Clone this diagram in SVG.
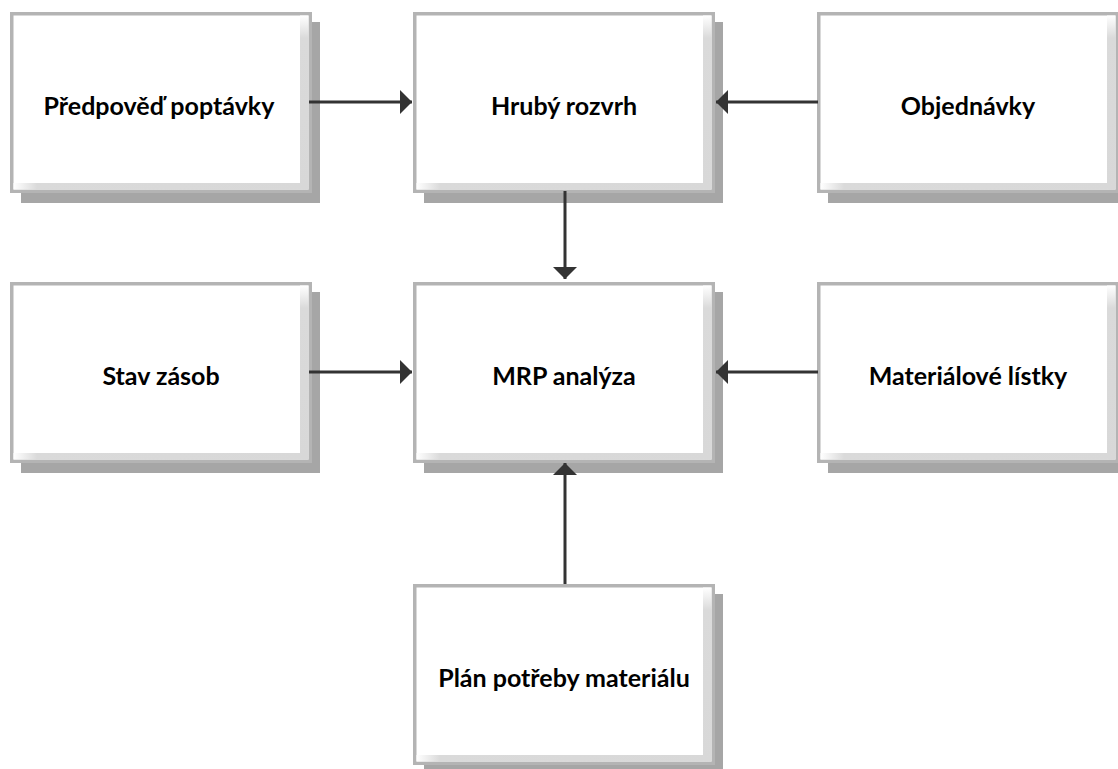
<svg xmlns="http://www.w3.org/2000/svg" width="1118" height="769" viewBox="0 0 1118 769">
<style>
.shadow{fill:#a6a6a6}
.face{fill:#ffffff;stroke:#b4b4b4;stroke-width:3.5}
.bandR{fill:url(#gR)}
.bandB{fill:url(#gB)}
.label{font-family:Lato,"Open Sans","Liberation Sans",sans-serif;font-weight:bold;font-size:25px;fill:#000;text-anchor:middle}
.conn{stroke:#333333;stroke-width:3;fill:none;marker-end:url(#arrow)}
</style>
<defs>
<linearGradient id="gR" x1="0" y1="0" x2="0" y2="1">
<stop offset="0" stop-color="#ffffff"/>
<stop offset="0.13" stop-color="#dadada"/>
<stop offset="1" stop-color="#d8d8d8"/>
</linearGradient>
<linearGradient id="gB" x1="0" y1="0" x2="1" y2="0">
<stop offset="0" stop-color="#ffffff"/>
<stop offset="0.08" stop-color="#dadada"/>
<stop offset="1" stop-color="#d8d8d8"/>
</linearGradient>
<marker id="arrow" markerUnits="userSpaceOnUse" markerWidth="12" markerHeight="24" refX="12" refY="12" orient="auto">
<path d="M0,0 L12,12 L0,24 Z" fill="#333333"/>
</marker>
</defs>
<rect width="1118" height="769" fill="#ffffff"/>

<g id="node-predpoved" transform="translate(10,12)">
<rect class="shadow" x="11" y="10" width="299" height="181"/>
<rect class="face" x="1.75" y="1.75" width="298.5" height="177.5"/>
<rect class="bandR" x="290" y="3.5" width="8.5" height="174"/>
<rect class="bandB" x="3.5" y="171" width="295" height="6.5"/>
<text class="label" x="149" y="103">Předpověď poptávky</text>
</g>

<g id="node-hruby" transform="translate(413,12)">
<rect class="shadow" x="11" y="10" width="299" height="181"/>
<rect class="face" x="1.75" y="1.75" width="298.5" height="177.5"/>
<rect class="bandR" x="290" y="3.5" width="8.5" height="174"/>
<rect class="bandB" x="3.5" y="171" width="295" height="6.5"/>
<text class="label" x="151" y="103">Hrubý rozvrh</text>
</g>

<g id="node-objednavky" transform="translate(817,12)">
<rect class="shadow" x="11" y="10" width="299" height="181"/>
<rect class="face" x="1.75" y="1.75" width="298.5" height="177.5"/>
<rect class="bandR" x="290" y="3.5" width="8.5" height="174"/>
<rect class="bandB" x="3.5" y="171" width="295" height="6.5"/>
<text class="label" x="151" y="103">Objednávky</text>
</g>

<g id="node-stav" transform="translate(10,282)">
<rect class="shadow" x="11" y="10" width="299" height="181"/>
<rect class="face" x="1.75" y="1.75" width="298.5" height="177.5"/>
<rect class="bandR" x="290" y="3.5" width="8.5" height="174"/>
<rect class="bandB" x="3.5" y="171" width="295" height="6.5"/>
<text class="label" x="151" y="103">Stav zásob</text>
</g>

<g id="node-mrp" transform="translate(413,282)">
<rect class="shadow" x="11" y="10" width="299" height="181"/>
<rect class="face" x="1.75" y="1.75" width="298.5" height="177.5"/>
<rect class="bandR" x="290" y="3.5" width="8.5" height="174"/>
<rect class="bandB" x="3.5" y="171" width="295" height="6.5"/>
<text class="label" x="151" y="103">MRP analýza</text>
</g>

<g id="node-materialove" transform="translate(817,282)">
<rect class="shadow" x="11" y="10" width="299" height="181"/>
<rect class="face" x="1.75" y="1.75" width="298.5" height="177.5"/>
<rect class="bandR" x="290" y="3.5" width="8.5" height="174"/>
<rect class="bandB" x="3.5" y="171" width="295" height="6.5"/>
<text class="label" x="151" y="103">Materiálové lístky</text>
</g>

<g id="node-plan" transform="translate(413,584)">
<rect class="shadow" x="11" y="10" width="299" height="181"/>
<rect class="face" x="1.75" y="1.75" width="298.5" height="177.5"/>
<rect class="bandR" x="290" y="3.5" width="8.5" height="174"/>
<rect class="bandB" x="3.5" y="171" width="295" height="6.5"/>
<text class="label" x="151" y="103">Plán potřeby materiálu</text>
</g>

<g id="connectors">
<line class="conn" x1="309" y1="102" x2="412" y2="102"/>
<line class="conn" x1="818" y1="102" x2="716" y2="102"/>
<line class="conn" x1="565" y1="191" x2="565" y2="279"/>
<line class="conn" x1="309" y1="372" x2="412" y2="372"/>
<line class="conn" x1="818" y1="372" x2="716" y2="372"/>
<line class="conn" x1="565" y1="584" x2="565" y2="463"/>
</g>
</svg>
